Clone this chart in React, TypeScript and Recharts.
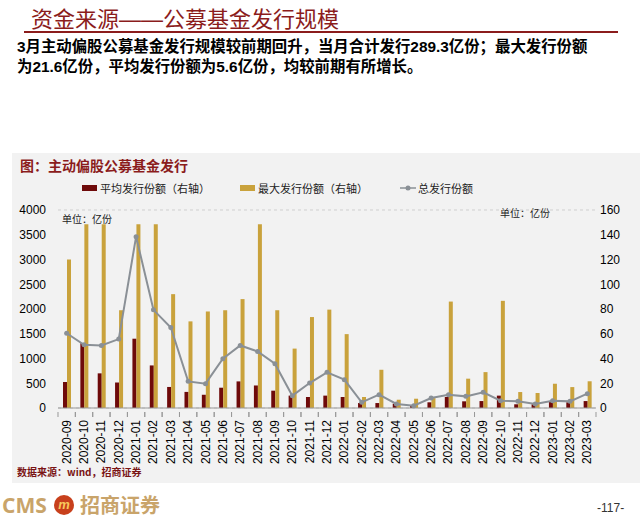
import React from 'react';
import {
  ComposedChart,
  Bar,
  Line,
  XAxis,
  YAxis,
  CartesianGrid,
} from 'recharts';

// months, 2020-09 .. 2023-03
const months = [
  '2020-09', '2020-10', '2020-11', '2020-12',
  '2021-01', '2021-02', '2021-03', '2021-04', '2021-05', '2021-06',
  '2021-07', '2021-08', '2021-09', '2021-10', '2021-11', '2021-12',
  '2022-01', '2022-02', '2022-03', '2022-04', '2022-05', '2022-06',
  '2022-07', '2022-08', '2022-09', '2022-10', '2022-11', '2022-12',
  '2023-01', '2023-02', '2023-03',
];

// 平均发行份额 (right axis, 亿份)
const avgShares = [
  21, 52.4, 28, 20.6, 56, 34.4, 17, 13, 10.7, 16.4,
  21.5, 18.2, 14, 10, 8.9, 10, 8.9, 4, 4, 3.5,
  2.2, 4.6, 8.9, 5.4, 5.6, 10, 3, 3, 5.1, 4.6, 5.6,
];

// 最大发行份额 (right axis, 亿份)
const maxShares = [
  120, 148.5, 148.5, 79, 148.5, 148.5, 92, 70, 78, 79,
  88, 148.5, 79, 48, 73.5, 79.5, 59.7, 8.9, 30.9, 6.7,
  7.5, 8, 86, 23.7, 29, 86.6, 12.9, 12.1, 19.6, 16.9, 21.6,
];

// 总发行份额 (left axis, 亿份)
const totalShares = [
  1510, 1277, 1264, 1392, 3462, 1983, 1627, 538, 491, 995,
  1264, 1143, 894, 249, 504, 720, 572, 114, 269, 81,
  47, 202, 269, 235, 316, 148, 134, 81, 148, 134, 289.3,
];

const leftTicks = [0, 500, 1000, 1500, 2000, 2500, 3000, 3500, 4000];
const rightTicks = [0, 20, 40, 60, 80, 100, 120, 140, 160];

const data = months.map((m, i) => ({
  month: m,
  avg: avgShares[i],
  max: maxShares[i],
  total: totalShares[i],
}));

const DARK_RED = '#6e0a0a';
const GOLD = '#c9a23c';
const LINE_GRAY = '#8a9096';
const TITLE_RED = '#8b1c1c';
const CJK = '"Noto Sans CJK SC", "Noto Sans", sans-serif';
const LATIN_CJK = '"Liberation Sans", "Noto Sans CJK SC", sans-serif';
const HALF_BAND = 8.68;

function MonthTick(props: any) {
  const { x, y, payload } = props;
  return (
    <g>
      <line x1={x - HALF_BAND} y1={y - 4} x2={x - HALF_BAND} y2={y + 1} stroke="#999" />
      <line x1={x + HALF_BAND} y1={y - 4} x2={x + HALF_BAND} y2={y + 1} stroke="#999" />
      <text
        x={x}
        y={y + 4}
        transform={`rotate(-90 ${x} ${y + 4})`}
        textAnchor="end"
        dominantBaseline="central"
        fontSize={12}
        fontFamily="Arial, 'Liberation Sans', sans-serif"
        fill="#000"
      >
        {payload.value}
      </text>
    </g>
  );
}

export default function App() {
  return (
    <div style={{ position: 'absolute', left: 0, top: 0, width: 640, height: 519, background: '#fff', overflow: 'hidden', fontFamily: CJK }}>
      <div style={{ position: 'absolute', left: 31, top: 1, fontSize: 22, color: TITLE_RED, lineHeight: 'normal', whiteSpace: 'nowrap', fontFamily: LATIN_CJK }}>
        资金来源——公募基金发行规模
      </div>
      <div style={{ position: 'absolute', left: 24, top: 31, width: 594, height: 2, background: TITLE_RED }} />
      <div style={{ position: 'absolute', left: 17, top: 37, width: 615, fontSize: 15.4, fontWeight: 700, lineHeight: '20px', color: '#000', whiteSpace: 'nowrap', fontFamily: LATIN_CJK }}>
        3月主动偏股公募基金发行规模较前期回升，当月合计发行289.3亿份；最大发行份额
        <br />
        为21.6亿份，平均发行份额为5.6亿份，均较前期有所增长。
      </div>

      <div style={{ position: 'absolute', left: 12, top: 153, width: 628, height: 330, background: '#f2f2f2' }} />
      <div style={{ position: 'absolute', left: 20, top: 155, fontSize: 14, fontWeight: 700, color: TITLE_RED, lineHeight: '20px' }}>
        图：主动偏股公募基金发行
      </div>

      {/* legend */}
      <div style={{ position: 'absolute', left: 82, top: 181, fontSize: 11, color: '#222', lineHeight: '14px', display: 'flex', alignItems: 'center', whiteSpace: 'nowrap' }}>
        <span style={{ display: 'inline-block', width: 15, height: 6, background: DARK_RED, marginRight: 3 }} />
        平均发行份额（右轴）
      </div>
      <div style={{ position: 'absolute', left: 240, top: 181, fontSize: 11, color: '#222', lineHeight: '14px', display: 'flex', alignItems: 'center', whiteSpace: 'nowrap' }}>
        <span style={{ display: 'inline-block', width: 15, height: 6, background: GOLD, marginRight: 3 }} />
        最大发行份额（右轴）
      </div>
      <div style={{ position: 'absolute', left: 400, top: 181, fontSize: 11, color: '#222', lineHeight: '14px', display: 'flex', alignItems: 'center', whiteSpace: 'nowrap' }}>
        <svg width={16} height={8} style={{ marginRight: 2 }}>
          <line x1={0} y1={4} x2={16} y2={4} stroke={LINE_GRAY} strokeWidth={1.5} />
          <circle cx={8} cy={4} r={2.5} fill={LINE_GRAY} />
        </svg>
        总发行份额
      </div>
      <div style={{ position: 'absolute', left: 62, top: 212, fontSize: 10, color: '#222', lineHeight: '14px' }}>单位：亿份</div>
      <div style={{ position: 'absolute', left: 500, top: 206, fontSize: 10, color: '#222', lineHeight: '14px' }}>单位：亿份</div>

      <div style={{ position: 'absolute', left: 0, top: 200 }}>
        <ComposedChart
          width={640}
          height={270}
          data={data}
          margin={{ top: 10, right: 0, bottom: 0, left: 0 }}
          barCategoryGap="27%"
          barGap={0}
        >
          <CartesianGrid vertical={false} stroke="#cfcfcf" strokeDasharray="3 3" />
          <XAxis
            dataKey="month"
            interval={0}
            height={62}
            tickLine={false}
            axisLine={{ stroke: '#999' }}
            tick={<MonthTick />}
          />
          <YAxis
            yAxisId="left"
            domain={[0, 4000]}
            ticks={leftTicks}
            width={58}
            axisLine={false}
            tickLine={false}
            tickMargin={6}
            tick={{ fontSize: 12, fill: '#000', fontFamily: 'Arial, "Liberation Sans", sans-serif' }}
          />
          <YAxis
            yAxisId="right"
            orientation="right"
            domain={[0, 160]}
            ticks={rightTicks}
            width={44}
            axisLine={false}
            tickLine={false}
            tickSize={0}
            tickMargin={4}
            tick={{ fontSize: 12, fill: '#000', fontFamily: 'Arial, "Liberation Sans", sans-serif', textAnchor: 'start' }}
          />
          <Bar yAxisId="right" dataKey="avg" fill={DARK_RED} barSize={4} isAnimationActive={false} />
          <Bar yAxisId="right" dataKey="max" fill={GOLD} barSize={4} isAnimationActive={false} />
          <Line
            yAxisId="left"
            type="linear"
            dataKey="total"
            stroke={LINE_GRAY}
            strokeWidth={2}
            dot={{ r: 2.5, fill: LINE_GRAY, stroke: LINE_GRAY, strokeWidth: 0 }}
            isAnimationActive={false}
          />
        </ComposedChart>
      </div>

      <div style={{ position: 'absolute', left: 17, top: 465, fontSize: 10, fontWeight: 700, color: '#7a1414', lineHeight: '14px' }}>
        数据来源：wind，招商证券
      </div>

      {/* footer */}
      <div style={{ position: 'absolute', left: 2, top: 494, fontSize: 21, fontWeight: 700, color: '#c9a46a', lineHeight: '22px', fontFamily: '"Open Sans", sans-serif' }}>
        CMS
      </div>
      <div style={{ position: 'absolute', left: 54, top: 495, width: 20, height: 20, borderRadius: 10, background: '#c8401c', color: '#f7c95c', fontSize: 13, fontWeight: 700, fontStyle: 'italic', textAlign: 'center', lineHeight: '20px', fontFamily: 'Arial, sans-serif' }}>
        m
      </div>
      <div style={{ position: 'absolute', left: 80, top: 494, fontSize: 20, color: '#c9a46a', lineHeight: '22px', fontWeight: 700 }}>
        招商证券
      </div>
      <div style={{ position: 'absolute', left: 597, top: 501, fontSize: 12, color: '#333', lineHeight: '14px', fontFamily: 'Arial, sans-serif' }}>
        -117-
      </div>
    </div>
  );
}
